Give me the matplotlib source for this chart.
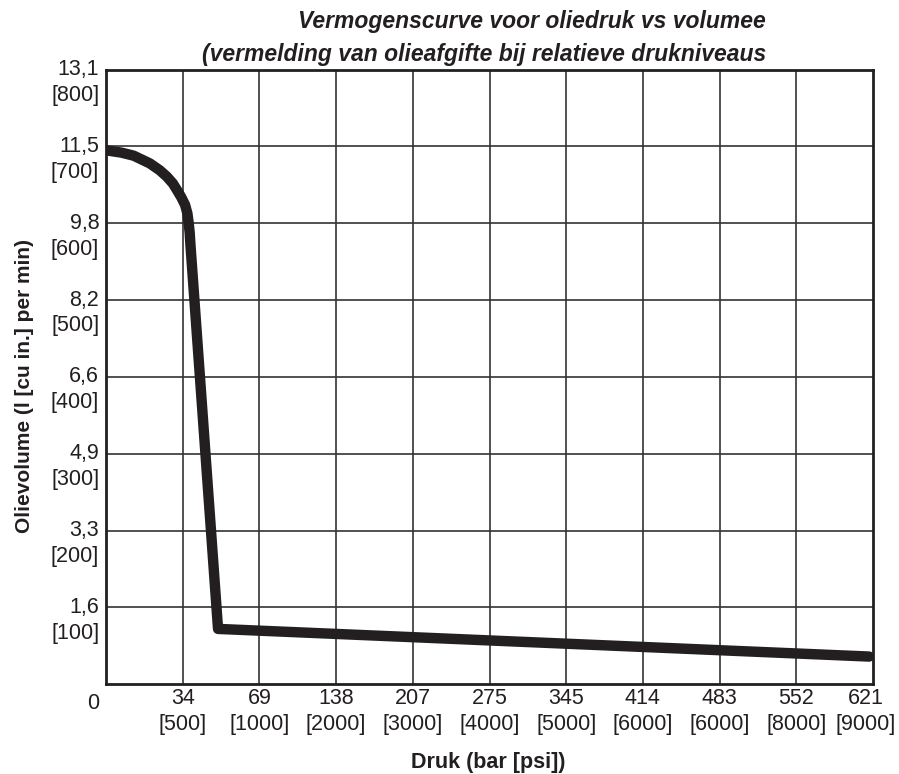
import numpy as np
import matplotlib.pyplot as plt
from matplotlib.transforms import ScaledTranslation

#=======================================================
# Data
#=======================================================

# x positions are grid-column indices (axis is not linear in bar)
bar_labels = ['34', '69', '138', '207', '275', '345', '414', '483', '552', '621']
psi_labels = ['500', '1000', '2000', '3000', '4000', '5000', '6000', '6000', '8000', '9000']
lpm_labels = ['1,6', '3,3', '4,9', '6,6', '8,2', '9,8', '11,5', '13,1']
cuin_vals  = [100, 200, 300, 400, 500, 600, 700, 800]

curve_x = [0.0, 0.2, 0.36, 0.57, 0.7, 0.79, 0.87, 0.92, 0.98, 1.03, 1.06, 1.075,
           1.09, 1.10, 1.46, 9.95]
curve_y = [695, 692, 688, 678, 669, 661, 652, 644, 634, 624, 613, 602,
           588, 572, 72, 36]

#=======================================================
# Plot
#=======================================================

plt.rcParams['font.family'] = ['Liberation Sans', 'DejaVu Sans']

fig = plt.figure(figsize=(8.99, 7.74), dpi=100)
ax = fig.add_axes([0.118, 0.116, 0.853, 0.794])

ax.set_xlim(0, 10)
ax.set_ylim(0, 800)

# grid
for xi in range(1, 10):
    ax.axvline(xi, color='#333333', lw=1.2, zorder=1)
for yv in cuin_vals[:-1]:
    ax.axhline(yv, color='#333333', lw=1.2, zorder=1)

ax.plot(curve_x, curve_y, color='#231f20', lw=7.5, solid_capstyle='round',
        solid_joinstyle='round', zorder=3)

for s in ax.spines.values():
    s.set_linewidth(2.0)
    s.set_color('#231f20')

ax.tick_params(length=0, labelsize=15.5, colors='#231f20')
ax.tick_params(axis='x', pad=3)
ax.tick_params(axis='y', pad=5)

ax.set_xticks(range(1, 11))
ax.set_xticklabels([b + '\n[' + p + ']' for b, p in zip(bar_labels, psi_labels)],
                   linespacing=1.3)
last = ax.get_xticklabels()[-1]
last.set_transform(last.get_transform() + ScaledTranslation(-7/100, 0, fig.dpi_scale_trans))

ax.set_yticks(cuin_vals)
ax.set_yticklabels([l + '\n[' + str(v) + ']' for l, v in zip(lpm_labels, cuin_vals)],
                   linespacing=1.3, ha='right')
off = ScaledTranslation(0, -8/100, fig.dpi_scale_trans)
for lab in ax.get_yticklabels():
    lab.set_transform(lab.get_transform() + off)

ax.text(-0.17, -25, '0', fontsize=15.5, ha='center', va='center', color='#231f20')

ax.set_xlabel('Druk (bar [psi])', fontsize=15.5, fontweight='bold', color='#231f20',
              va='center')
ax.xaxis.set_label_coords(0.498, -0.127)
ax.set_ylabel('Olievolume (l [cu in.] per min)', fontsize=15, fontweight='bold',
              color='#231f20', va='center')
ax.yaxis.set_label_coords(-0.106, 0.485)

fig.text(0.852, 0.972, 'Vermogenscurve voor oliedruk vs volumee', ha='right', va='center',
         fontsize=16.5, fontweight='bold', style='italic', color='#231f20')
fig.text(0.852, 0.929, '(vermelding van olieafgifte bij relatieve drukniveaus', ha='right',
         va='center', fontsize=16.5, fontweight='bold', style='italic', color='#231f20')

plt.savefig('out.png', dpi=100)
